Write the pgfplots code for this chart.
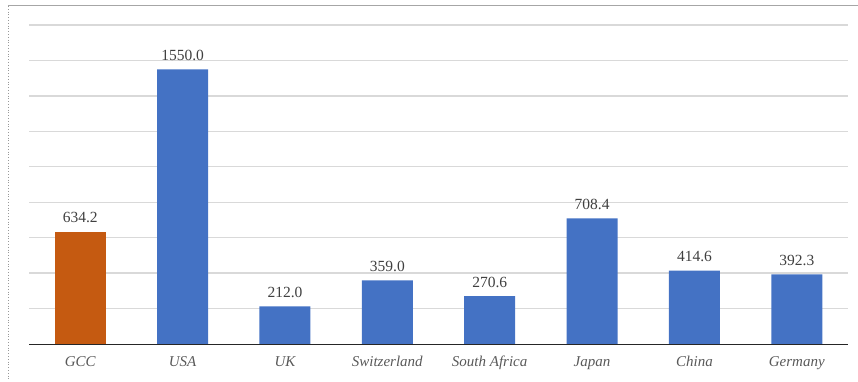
\documentclass[border=0pt]{standalone}
\usepackage{pgfplots}
\pgfplotsset{compat=1.18}
\usepackage{fontspec}
\setmainfont{Liberation Serif}
\definecolor{barblue}{HTML}{4472C4}
\definecolor{barorange}{HTML}{C55A11}
\definecolor{gridgray}{HTML}{D9D9D9}
\definecolor{valtext}{HTML}{404040}
\definecolor{cattext}{HTML}{595959}
\begin{document}
\begin{tikzpicture}[x=1pt,y=1pt]
\useasboundingbox (0,0) rectangle (858,381);
% outer frame: solid top edge, dotted left edge
\draw[gray!70, line width=1pt] (8,375) -- (858,375);
\draw[gray!80, line width=0.8pt, dotted] (8,375) -- (8,0);
\begin{axis}[
  at={(29pt,37pt)}, anchor=south west,
  scale only axis,
  width=819pt, height=319pt,
  xmin=-0.5, xmax=7.5,
  ymin=0, ymax=1800,
  ytick={200,400,...,1800},
  yticklabels={},
  ymajorgrids,
  grid style={gridgray, line width=1.3pt},
  major tick length=0pt,
  axis line style={draw=none},
  xtick={0,...,7},
  xticklabels={GCC,USA,UK,Switzerland,South Africa,Japan,China,Germany},
  xticklabel style={font=\fontsize{15}{17}\selectfont\itshape, text=cattext, anchor=base, yshift=-22pt},
  ybar, bar width=51pt, bar shift=0pt,
  nodes near coords,
  nodes near coords style={font=\fontsize{15.5}{17}\selectfont, text=valtext, anchor=base, inner sep=0pt, yshift=9pt,
    /pgf/number format/.cd, fixed, fixed zerofill, precision=1, 1000 sep={}, assume math mode=true},
  clip=false,
]
\addplot[fill=barorange, draw=none] coordinates {(0,634.2)};
\addplot[fill=barblue, draw=none] coordinates {
  (1,1550.0) (2,212.0) (3,359.0) (4,270.6) (5,708.4) (6,414.6) (7,392.3)};
\draw[black!85, line width=1pt] (axis cs:-0.5,0) -- (axis cs:7.5,0);
\end{axis}
\end{tikzpicture}
\end{document}
